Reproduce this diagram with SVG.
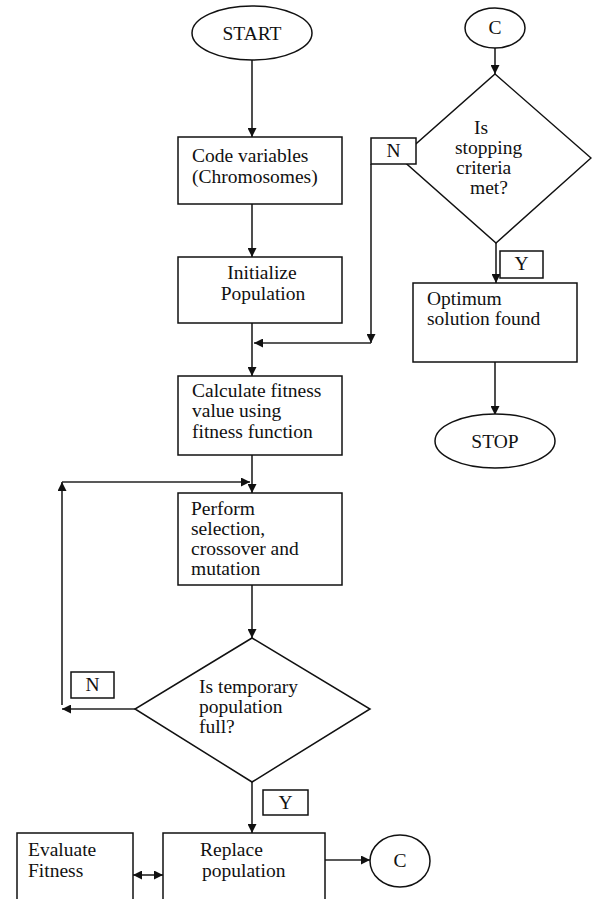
<svg xmlns="http://www.w3.org/2000/svg" width="592" height="899" viewBox="0 0 592 899">
<style>
.s{fill:#fff;stroke:#111;stroke-width:1.5}
.t{font-family:"Liberation Serif","Times New Roman",serif;font-size:19.5px;fill:#111}
.c{stroke:#222;stroke-width:1.6;fill:none}
.a{marker-end:url(#ah)}
</style>
<defs>
<marker id="ah" viewBox="0 0 10 10" refX="10" refY="5" markerWidth="9" markerHeight="9" markerUnits="userSpaceOnUse" orient="auto-start-reverse">
<path d="M0,0 L10,5 L0,10 z" fill="#111"/>
</marker>
</defs>
<g id="connectors">
<line class="c a" x1="252" y1="60" x2="252" y2="137"/>
<line class="c a" x1="252" y1="204" x2="252" y2="257"/>
<line class="c a" x1="252" y1="323" x2="252" y2="376"/>
<line class="c a" x1="371" y1="164" x2="371" y2="343"/>
<line class="c a" x1="371" y1="343" x2="254" y2="343"/>
<line class="c a" x1="252" y1="455" x2="252" y2="493"/>
<line class="c a" x1="135" y1="709" x2="62" y2="709"/>
<line class="c a" x1="62" y1="705" x2="62" y2="482"/>
<line class="c a" x1="62" y1="482" x2="250" y2="482"/>
<line class="c a" x1="252" y1="585" x2="252" y2="638"/>
<line class="c a" x1="252" y1="782" x2="252" y2="833"/>
<line class="c a" x1="495" y1="48" x2="495" y2="74"/>
<line class="c a" x1="496" y1="243" x2="496" y2="283"/>
<line class="c a" x1="495" y1="362" x2="495" y2="415"/>
<line class="c a" x1="325" y1="860" x2="370" y2="860"/>
<line class="c a" x1="133" y1="875" x2="163" y2="875" style="marker-start:url(#ah)"/>
</g>
<g id="start">
<ellipse class="s" cx="252" cy="33" rx="60" ry="27"/>
<text class="t" x="252" y="40" text-anchor="middle">START</text>
</g>
<g id="code">
<rect class="s" x="178" y="137" width="164" height="67"/>
<text class="t" x="192" y="162">Code variables</text>
<text class="t" x="192" y="183">(Chromosomes)</text>
</g>
<g id="init">
<rect class="s" x="178" y="257" width="164" height="66"/>
<text class="t" x="262" y="279" text-anchor="middle">Initialize</text>
<text class="t" x="263" y="300" text-anchor="middle">Population</text>
</g>
<g id="calc">
<rect class="s" x="178" y="376" width="164" height="79"/>
<text class="t" x="192" y="397">Calculate fitness</text>
<text class="t" x="192" y="417">value using</text>
<text class="t" x="192" y="438">fitness function</text>
</g>
<g id="perform">
<rect class="s" x="178" y="493" width="164" height="92"/>
<text class="t" x="191" y="515">Perform</text>
<text class="t" x="191" y="535">selection,</text>
<text class="t" x="191" y="555">crossover and</text>
<text class="t" x="191" y="575">mutation</text>
</g>
<g id="full">
<polygon class="s" points="252,638 370,709 252,782 135,709"/>
<text class="t" x="199" y="693">Is temporary</text>
<text class="t" x="199" y="713">population</text>
<text class="t" x="199" y="733">full?</text>
</g>
<g id="n2">
<rect class="s" x="71" y="672" width="43" height="26"/>
<text class="t" x="92.5" y="691" text-anchor="middle" font-size="17">N</text>
</g>
<g id="y2">
<rect class="s" x="263" y="790" width="45" height="25"/>
<text class="t" x="285.5" y="809" text-anchor="middle" font-size="16">Y</text>
</g>
<g id="evaluate">
<rect class="s" x="17" y="833" width="116" height="80"/>
<text class="t" x="28" y="856">Evaluate</text>
<text class="t" x="28" y="877">Fitness</text>
</g>
<g id="replace">
<rect class="s" x="163" y="833" width="162" height="80"/>
<text class="t" x="200" y="856">Replace</text>
<text class="t" x="202" y="877">population</text>
</g>
<g id="c-bottom">
<ellipse class="s" cx="400" cy="861" rx="30" ry="26"/>
<text class="t" x="400" y="867" text-anchor="middle" font-size="17">C</text>
</g>
<g id="c-top">
<ellipse class="s" cx="495" cy="28" rx="30" ry="20"/>
<text class="t" x="495" y="34" text-anchor="middle" font-size="17">C</text>
</g>
<g id="stopping">
<polygon class="s" points="495,74 591,158 496,243 400,158"/>
<text class="t" x="474" y="134">Is</text>
<text class="t" x="455" y="154">stopping</text>
<text class="t" x="456" y="174">criteria</text>
<text class="t" x="470" y="194">met?</text>
</g>
<g id="n1">
<rect class="s" x="371" y="138" width="45" height="26"/>
<text class="t" x="393.5" y="157" text-anchor="middle" font-size="17">N</text>
</g>
<g id="y1">
<rect class="s" x="500" y="251" width="43" height="27"/>
<text class="t" x="521.5" y="270" text-anchor="middle" font-size="16">Y</text>
</g>
<g id="optimum">
<rect class="s" x="413" y="283" width="164" height="79"/>
<text class="t" x="427" y="305">Optimum</text>
<text class="t" x="427" y="325">solution found</text>
</g>
<g id="stop">
<ellipse class="s" cx="495" cy="441" rx="60" ry="27"/>
<text class="t" x="495" y="448" text-anchor="middle">STOP</text>
</g>
</svg>
